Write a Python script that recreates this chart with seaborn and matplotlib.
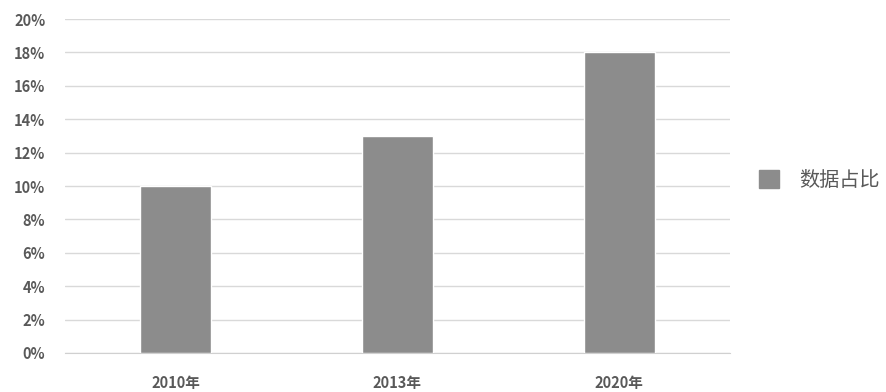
import matplotlib
matplotlib.use("Agg")
import matplotlib.pyplot as plt
import seaborn as sns
import pandas as pd
from matplotlib.patches import Patch
from matplotlib.ticker import FuncFormatter

years = ["2010年", "2013年", "2020年"]
shares = [10, 13, 18]
series_name = "数据占比"

sns.set_style("white")
plt.rcParams['font.family'] = ['Noto Sans CJK SC', 'DejaVu Sans']

df = pd.DataFrame({"year": years, "share": shares})

fig = plt.figure(figsize=(8.87, 3.92), dpi=100)
ax = fig.add_axes([0.073, 0.0995, 0.75, 0.852])

bar_color = "#8c8c8c"
sns.barplot(data=df, x="year", y="share", color=bar_color, width=0.32,
            saturation=1, ax=ax, zorder=3)

ax.set_ylim(0, 20)
ax.set_yticks(range(0, 21, 2))
ax.yaxis.set_major_formatter(FuncFormatter(lambda v, p: f"{int(v)}%"))
ax.set_xlim(-0.5, 2.5)
ax.grid(axis="y", color="#d9d9d9", linewidth=1, zorder=0)
ax.set_axisbelow(True)
for s in ["top", "right", "left"]:
    ax.spines[s].set_visible(False)
ax.spines["bottom"].set_color("#d0d0d0")
ax.set_xlabel("")
ax.set_ylabel("")
ax.tick_params(axis="both", length=0, colors="#595959", labelsize=10.5)
ax.tick_params(axis="y", pad=14)
ax.tick_params(axis="x", pad=16)
for lab in ax.get_xticklabels() + ax.get_yticklabels():
    lab.set_fontweight("bold")

handles = [Patch(facecolor=bar_color, edgecolor=bar_color)]
fig.legend(handles, [series_name], loc="center left", bbox_to_anchor=(0.835, 0.54),
           frameon=False, handlelength=1.0, handleheight=1.0, handletextpad=1.0,
           prop={"size": 14.5}, labelcolor="#595959")

fig.savefig("out.png", dpi=100)
